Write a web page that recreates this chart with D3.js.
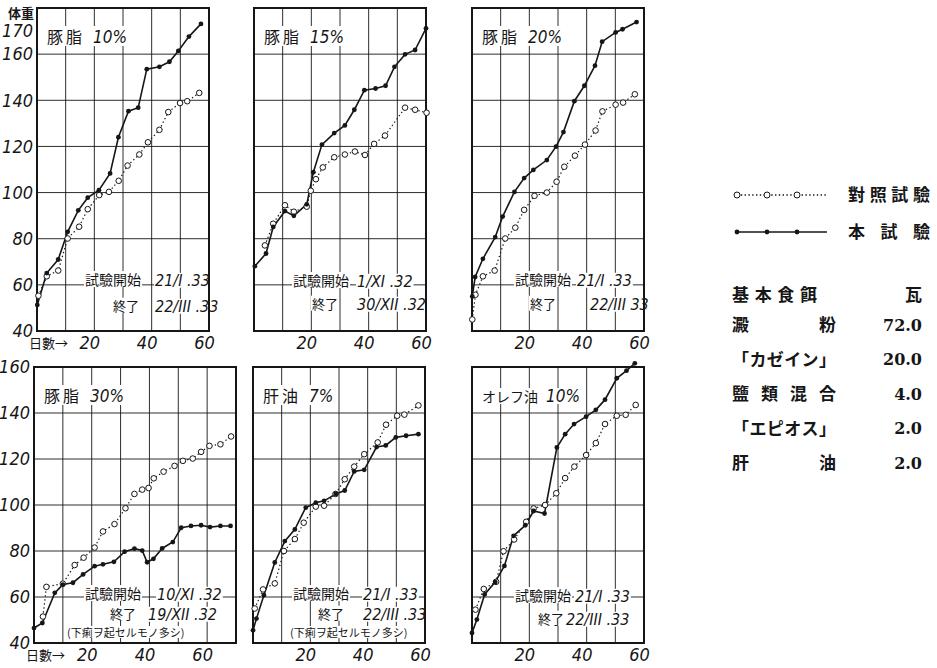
<!DOCTYPE html>
<html><head><meta charset="utf-8">
<script src="https://cdn.jsdelivr.net/npm/d3@7"></script>
<style>body{margin:0;background:#fff}svg{display:block;background:#fff}</style>
</head><body>
<svg id="chart" width="937" height="668"></svg>
<script>
// ---- data (day, body weight) ----
const lard10Test=[[0.1,51.3],[3.4,65.1],[7.4,71],[10.7,83],[14.4,92.3],[17.7,97.8],[21.6,101],[25.5,108.3],[28.4,124],[31.9,135.3],[35.3,136.8],[38.3,153.5],[42.7,154.5],[46.2,156.7],[49.3,161.4],[53,167.6],[57.2,173.1]];
const lard10Ctrl=[[0.5,55.3],[3.4,63.7],[7.4,66.2],[10.7,80.1],[14.7,85.2],[17.7,92.8],[21.7,98.9],[25.1,100.3],[28.5,105.1],[31.6,111.7],[35.7,116.5],[38.7,121.8],[42.7,127.2],[45.8,134.9],[49.9,138.8],[52.4,139.6],[56.6,143.2]];
const lard15Test=[[0.3,68.1],[4.2,73.6],[6.7,85.1],[10.8,92],[13.9,89.9],[18.4,94.9],[20.7,108.8],[23.7,120.8],[28,125.8],[31.7,129.1],[35,135.9],[38.5,144.4],[42.4,145.1],[45.9,146.3],[49,154.5],[52.7,159.9],[56.2,161.8],[60,171.2]];
const lard15Ctrl=[[3.8,77.1],[6.7,86.5],[10.8,94.5],[13.9,91.7],[18.4,93.9],[19.8,100.8],[21.6,105.8],[24,110.9],[28,115.3],[31.7,116.5],[35.2,117.8],[38.7,116.3],[41.9,121.1],[45.7,124.7],[52.7,136.8],[56.2,135.9],[60.2,134.6]];
const lard20Test=[[0.1,55],[1.1,63.4],[3.8,71.3],[8.1,80.7],[10.7,89.6],[14.8,100.3],[18.2,106.3],[21.4,109.8],[26.1,114.1],[29.3,119.9],[31.9,126.2],[35.7,139.6],[39.2,146.3],[42.9,155],[45.4,165.4],[50.1,169.4],[52.5,170.8],[57.4,173.9]];
const lard20Ctrl=[[0.1,45],[1.2,55.7],[3.8,63.7],[7.9,66.2],[11.6,80.1],[15.1,84.8],[18.2,92.5],[21.8,98.6],[26.1,100],[29.5,104.7],[32.2,111.2],[35.9,116],[39.4,120.8],[43.1,126.9],[45.5,135.2],[50.1,138.1],[52.7,139],[56.8,142.6]];
const lard30Test=[[0,46.5],[2.9,48.7],[7.2,61.8],[10,65.4],[13.5,66.2],[17,69.8],[21,73.4],[23.9,74.2],[27.7,75.3],[31.4,79.7],[34.8,81],[37.5,80.2],[39.2,75.1],[41.4,76.6],[44.4,81.1],[48.1,83.9],[51,90.1],[54.4,90.9],[57.9,91.2],[61,90.4],[64.6,90.9],[68.1,90.9]];
const lard30Ctrl=[[3.1,51.5],[4.3,64.4],[10,65.8],[14.1,73.9],[17.2,77.1],[21,81.5],[23.9,88.5],[27.9,91.7],[31.7,98.6],[34.8,104.8],[37.5,106.7],[39.7,107.4],[41.5,111.6],[44.9,114.5],[48.7,117],[51.6,119.2],[55,120.2],[57.9,123.1],[60.8,125.7],[64.6,126.4],[68.3,129.8]];
const liverTest=[[0,45.5],[1.2,50.6],[3.8,60.8],[7.6,75],[11.1,84.3],[14.6,89.4],[18.4,98.9],[21.9,101],[24.8,101.8],[28.9,104.8],[32,106.3],[35.3,114.6],[38.8,115.3],[43.1,125.2],[46.3,125.9],[49.8,129.4],[53.4,130.1],[57.7,130.8]];
const liverCtrl=[[0.6,55],[3.5,63.3],[7.6,65.9],[10.8,80],[14.6,85.2],[17.7,92.3],[21.9,99.3],[24.8,99.7],[28.8,104.8],[32,111.2],[35.3,116.7],[38.8,122.1],[43.5,127.2],[46.4,134.9],[50.3,138.8],[52.8,139.3],[57.7,143.3]];
const oliveTest=[[0,44.4],[1.7,50.2],[4.4,61.1],[8.1,66.5],[11.3,73.5],[14.5,86.6],[18.6,91.2],[21.5,97.4],[25.3,96.3],[29.6,125],[32.5,130.8],[35.6,135.2],[39.8,138.4],[43.2,141.4],[46.4,145.8],[50.5,155.1],[53.9,158.4],[56.8,161.6]];
const oliveCtrl=[[1.2,54.5],[4.1,63.5],[8.4,66.6],[11,79.9],[14.7,85],[18.9,92.7],[21.5,98.5],[25.5,100],[29.4,105.1],[32.5,111.7],[35.7,116.7],[39.8,121.7],[43.2,126.9],[46.4,135.2],[50.5,138.8],[53.6,139.2],[57.1,143.5]];

const titleNames=["豚脂","豚脂","豚脂","豚脂","肝油","オレフ油"];
const titlePcts=["10%","15%","20%","30%","7%","10%"];
const startDates=["21/I .33","1/XI .32","21/I .33","10/XI .32","21/I .33","21/I .33"];
const endDates=["22/III .33","30/XII .32","22/III 33","19/XII .32","22/III .33","22/III .33"];
const remarks=["","","","(下痢ヲ起セルモノ多シ)","(下痢ヲ起セルモノ多シ)",""];
const startLabel="試驗開始", endLabel="終了";

const yTicksTop=[40,60,80,100,120,140,160,170];
const yTicksBottom=[40,60,80,100,120,140,160];
const xTicks=[20,40,60];

const legendLabels=["對照試驗","本 試 驗"];
const dietHeader=["基本食餌","瓦"];
const dietItems=["澱　　粉","「カゼイン」","鹽類混合","「エピオス」","肝　　油"];
const dietGrams=["72.0","20.0","4.0","2.0","2.0"];

// ---- layout ----
const HAND='"Liberation Sans Narrow","DejaVu Sans Condensed",sans-serif';
const KANJI='"Noto Sans CJK JP",sans-serif';
const INK="#161616";

const panels=[
 {test:lard10Test,ctrl:lard10Ctrl,x0:37,x1:209,y0:8,y1:331,xmax:60,ymax:180,k1:48,n1:118,k2:76,n2:118,ny1:280,ny2:306,yAxis:yTicksTop},
 {test:lard15Test,ctrl:lard15Ctrl,x0:254,x1:426,y0:8,y1:331,xmax:60,ymax:180,k1:39,n1:103,k2:58,n2:103,ny1:281,ny2:304},
 {test:lard20Test,ctrl:lard20Ctrl,x0:472,x1:644,y0:8,y1:331,xmax:60,ymax:180,k1:43,n1:105,k2:58,n2:118,ny1:280,ny2:304},
 {test:lard30Test,ctrl:lard30Ctrl,x0:34,x1:236,y0:367,y1:643,xmax:70,ymax:160,k1:51,n1:123,k2:76,n2:114,ny1:594,ny2:614,r:33,ry:633,yAxis:yTicksBottom},
 {test:liverTest,ctrl:liverCtrl,x0:253,x1:425,y0:367,y1:643,xmax:60,ymax:160,k1:40,n1:110,k2:65,n2:110,ny1:594,ny2:614,r:37,ry:633},
 {test:oliveTest,ctrl:oliveCtrl,x0:472,x1:644,y0:367,y1:643,xmax:60,ymax:160,k1:43,n1:103,k2:66,n2:94,ny1:596,ny2:619}
];

const svg=d3.select("#chart");

function boxed(g,t,pad){
 const b=t.node().getBBox();
 g.insert("rect",()=>t.node())
  .attr("x",b.x-pad).attr("y",b.y+2).attr("width",b.width+2*pad).attr("height",b.height-4)
  .attr("fill","#fff");
}

function note(g,x,y,str,font,size,italic){
 const t=g.append("text").attr("x",x).attr("y",y).attr("dy","0.36em")
  .attr("font-family",font).attr("font-size",size).attr("fill",INK)
  .attr("font-style",italic?"italic":"normal").text(str);
 boxed(g,t,1);
 return t;
}

function drawPanel(p,i){
 const x=d3.scaleLinear().domain([0,p.xmax]).range([p.x0,p.x1]);
 const y=d3.scaleLinear().domain([40,p.ymax]).range([p.y1,p.y0]);
 const g=svg.append("g");

 g.selectAll("line.gx").data(d3.range(10,p.xmax,10)).enter().append("line")
  .attr("x1",d=>x(d)).attr("x2",d=>x(d)).attr("y1",p.y0).attr("y2",p.y1)
  .attr("stroke",INK).attr("stroke-width",0.9);
 g.selectAll("line.gy").data(d3.range(60,Math.min(p.ymax,161),20)).enter().append("line")
  .attr("x1",p.x0).attr("x2",p.x1).attr("y1",d=>y(d)).attr("y2",d=>y(d))
  .attr("stroke",INK).attr("stroke-width",0.9);

 // title
 const tg=g.append("g");
 const tt=tg.append("text").attr("x",p.x0+10).attr("y",p.y0+35).attr("fill",INK);
 tt.append("tspan").attr("font-family",KANJI).attr("font-size",i==5?14:16).attr("letter-spacing",i==5?0:3).text(titleNames[i]);
 tt.append("tspan").attr("dx",8).attr("font-family",HAND).attr("font-style","italic").attr("font-size",17).text(titlePcts[i]);
 boxed(tg,tt,2);

 // experiment notes
 const ng=g.append("g");
 note(ng,p.x0+p.k1,p.ny1,startLabel,KANJI,14);
 note(ng,p.x0+p.n1,p.ny1,startDates[i],HAND,16,true);
 note(ng,p.x0+p.k2,p.ny2,endLabel,KANJI,13);
 note(ng,p.x0+p.n2,p.ny2,endDates[i],HAND,16,true);
 if(remarks[i]) note(ng,p.x0+p.r,p.ry,remarks[i],KANJI,11);

 g.append("rect").attr("x",p.x0).attr("y",p.y0).attr("width",p.x1-p.x0).attr("height",p.y1-p.y0)
  .attr("fill","none").attr("stroke",INK).attr("stroke-width",2);

 // x tick labels
 const ax=g.append("g").attr("transform",`translate(-5,${p.y1})`)
  .call(d3.axisBottom(x).tickValues(xTicks).tickSize(0).tickPadding(5).tickFormat(d3.format("d")));
 ax.select(".domain").remove();
 ax.selectAll("text").attr("font-family",HAND).attr("font-style","italic").attr("font-size",18).attr("fill",INK);

 if(p.yAxis){
  const ay=g.append("g").attr("transform",`translate(${p.x0},0)`)
   .call(d3.axisLeft(y).tickValues(p.yAxis).tickSize(0).tickPadding(4).tickFormat(d3.format("d")));
  ay.select(".domain").remove();
  ay.selectAll("text").attr("font-family",HAND).attr("font-style","italic").attr("font-size",18).attr("fill",INK);
  g.append("text").attr("x",p.x0-8).attr("y",p.y1+12).attr("dy","0.36em")
   .attr("font-family",KANJI).attr("font-size",13).attr("fill",INK).text("日數→");
 }

 const line=d3.line().x(d=>x(d[0])).y(d=>y(d[1]));
 g.append("path").datum(p.ctrl).attr("d",line).attr("fill","none")
  .attr("stroke",INK).attr("stroke-width",1.2).attr("stroke-dasharray","1.4,2.6");
 g.append("path").datum(p.test).attr("d",line).attr("fill","none")
  .attr("stroke",INK).attr("stroke-width",1.6);
 g.selectAll("circle.c").data(p.ctrl).enter().append("circle")
  .attr("cx",d=>x(d[0])).attr("cy",d=>y(d[1])).attr("r",2.8)
  .attr("fill","#fff").attr("stroke",INK).attr("stroke-width",1);
 g.selectAll("circle.t").data(p.test).enter().append("circle")
  .attr("cx",d=>x(d[0])).attr("cy",d=>y(d[1])).attr("r",2.4).attr("fill",INK);
}

panels.forEach(drawPanel);

// weight label
svg.append("text").attr("x",34).attr("y",13).attr("dy","0.36em").attr("text-anchor","end")
 .attr("font-family",KANJI).attr("font-size",13).attr("font-weight","bold").attr("fill",INK).text("体重");

// ---- legend ----
const lg=svg.append("g");
const lx=d3.scaleLinear().domain([0,3]).range([737,827]);
const legendY=[195,232];
lg.append("line").attr("x1",lx(0)).attr("x2",lx(3)).attr("y1",legendY[0]).attr("y2",legendY[0])
 .attr("stroke",INK).attr("stroke-width",1.3).attr("stroke-dasharray","1.4,2.4");
lg.append("line").attr("x1",lx(0)).attr("x2",lx(3)).attr("y1",legendY[1]).attr("y2",legendY[1])
 .attr("stroke",INK).attr("stroke-width",1.4);
lg.selectAll("circle.c").data([0,1,2]).enter().append("circle")
 .attr("cx",d=>lx(d)).attr("cy",legendY[0]).attr("r",3).attr("fill","#fff").attr("stroke",INK);
lg.selectAll("circle.t").data([0,1,2]).enter().append("circle")
 .attr("cx",d=>lx(d)).attr("cy",legendY[1]).attr("r",2.4).attr("fill",INK);
lg.selectAll("text").data(legendLabels).enter().append("text")
 .attr("x",848).attr("y",(d,i)=>legendY[i]).attr("dy","0.36em")
 .attr("textLength",82).attr("lengthAdjust","spacing")
 .attr("font-family",KANJI).attr("font-size",17).attr("font-weight","bold").attr("fill",INK).text(d=>d);

// ---- diet table ----
const tgp=svg.append("g").attr("font-family",KANJI).attr("font-weight","bold").attr("fill",INK).attr("font-size",17);
const rowY=d3.scaleLinear().domain([0,4]).range([325,463]);
tgp.append("text").attr("x",732).attr("y",295).attr("dy","0.36em").attr("textLength",85).attr("lengthAdjust","spacing").text(dietHeader[0]);
tgp.append("text").attr("x",922).attr("y",295).attr("dy","0.36em").attr("text-anchor","end").text(dietHeader[1]);
tgp.selectAll("text.item").data(dietItems).enter().append("text")
 .attr("x",732).attr("y",(d,i)=>rowY(i)).attr("dy","0.36em")
 .attr("textLength",104).attr("lengthAdjust","spacing").text(d=>d);
tgp.selectAll("text.gram").data(dietGrams).enter().append("text")
 .attr("x",922).attr("y",(d,i)=>rowY(i)).attr("dy","0.36em").attr("text-anchor","end")
 .attr("font-family",'"DejaVu Serif",serif').attr("font-size",16).text(d=>d);
</script>
</body></html>
